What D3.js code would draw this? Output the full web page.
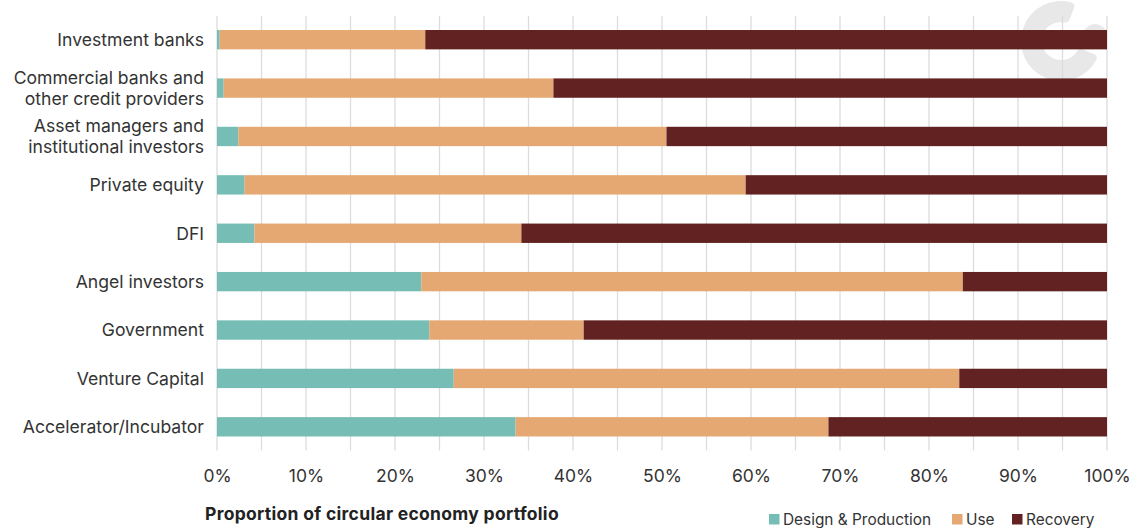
<!DOCTYPE html>
<html>
<head>
  <meta charset="utf-8">
  <title>Circular economy portfolio</title>
  <script src="https://d3js.org/d3.v7.min.js"></script>
  <style>
    body { margin: 0; background: #fff; }
    svg { display: block; font-family: Inter, "Noto Sans", sans-serif; }
  </style>
</head>
<body>
<div id="vis"></div>
<script>
  // categories top to bottom (\n = line break in the label)
  var categories = [
    "Investment banks",
    "Commercial banks and\nother credit providers",
    "Asset managers and\ninstitutional investors",
    "Private equity",
    "DFI",
    "Angel investors",
    "Government",
    "Venture Capital",
    "Accelerator/Incubator"
  ];
  var seriesNames = ["Design & Production", "Use", "Recovery"];
  var designProduction = [0.3, 0.75, 2.4, 3.1, 4.2, 22.95, 23.85, 26.6, 33.55];
  var use = [23.1, 37.05, 48.1, 56.3, 30.0, 60.85, 17.35, 56.8, 35.15];
  var recovery = [76.6, 62.2, 49.5, 40.6, 65.8, 16.2, 58.8, 16.6, 31.3];
  var tickValues = [0, 10, 20, 30, 40, 50, 60, 70, 80, 90, 100];
  var gridValues = d3.range(0, 101, 5);

  var colors = ["#76bdb5", "#e6a873", "#622222"];

  var W = 1137, H = 528;
  var margin = {top: 15.5, left: 217, right: 30, bottom: 77};
  var width = W - margin.left - margin.right;
  var height = H - margin.top - margin.bottom;

  var rows = categories.map(function(c, i) {
    return {cat: c, "Design & Production": designProduction[i], "Use": use[i], "Recovery": recovery[i]};
  });

  var svg = d3.select("#vis").append("svg")
      .attr("width", W)
      .attr("height", H);

  // faint logo mark, top right
  var logo = svg.append("g")
      .attr("transform", "translate(1061,41)")
      .attr("fill", "#e8e8e8");
  logo.append("path")
      .attr("d", d3.arc().innerRadius(19).outerRadius(40).startAngle(Math.PI * 0.62).endAngle(Math.PI * 2.12).cornerRadius(4)());
  logo.append("circle").attr("cx", 34).attr("cy", -5).attr("r", 12);

  var g = svg.append("g")
      .attr("transform", "translate(" + margin.left + "," + margin.top + ")");

  var x = d3.scaleLinear().domain([0, 100]).range([0, width]);
  var y = d3.scaleBand().domain(categories).range([0, height]).paddingInner(0.6).paddingOuter(0.3);

  // gridlines every 5%
  g.selectAll("line.grid")
      .data(gridValues)
      .enter()
      .append("line")
        .attr("class", "grid")
        .attr("x1", function(d) { return x(d); })
        .attr("x2", function(d) { return x(d); })
        .attr("y1", 0.5)
        .attr("y2", height - 0.5)
        .attr("stroke", "#dcdcdc")
        .attr("stroke-width", 1.3);

  var stacked = d3.stack().keys(seriesNames)(rows);

  g.selectAll("g.series")
      .data(stacked)
      .enter()
      .append("g")
        .attr("class", "series")
        .attr("fill", function(d, i) { return colors[i]; })
      .selectAll("rect")
      .data(function(d) { return d; })
      .enter()
      .append("rect")
        .attr("x", function(d) { return x(d[0]); })
        .attr("y", function(d) { return y(d.data.cat); })
        .attr("width", function(d) { return x(d[1]) - x(d[0]); })
        .attr("height", y.bandwidth());

  // category labels
  var yAxis = g.append("g")
      .call(d3.axisLeft(y).tickSize(0).tickPadding(13));
  yAxis.select(".domain").remove();
  yAxis.selectAll("text")
      .attr("font-size", 17.6)
      .attr("font-family", "Inter, 'Noto Sans', sans-serif")
      .attr("fill", "#333")
      .attr("dy", null)
      .each(function(d) {
        var lines = d.split("\n");
        var t = d3.select(this).text(null);
        var lh = 21.3;
        lines.forEach(function(l, i) {
          t.append("tspan")
            .attr("x", -13)
            .attr("dy", i === 0 ? (-(lines.length - 1) * lh / 2 + 6.3) + "px" : lh + "px")
            .text(l);
        });
      });

  // x ticks
  var xAxis = g.append("g")
      .attr("transform", "translate(0," + height + ")")
      .call(d3.axisBottom(x).tickValues(tickValues).tickSize(0).tickPadding(19)
        .tickFormat(function(d) { return d + "%"; }));
  xAxis.select(".domain").remove();
  xAxis.selectAll("text")
      .attr("font-size", 17.5)
      .attr("font-family", "Inter, 'Noto Sans', sans-serif")
      .attr("fill", "#333");

  // axis title
  svg.append("text")
      .attr("x", 205)
      .attr("y", 520)
      .attr("font-size", 17.5)
      .attr("font-weight", "bold")
      .attr("letter-spacing", 0.3)
      .attr("fill", "#222")
      .text("Proportion of circular economy portfolio");

  // legend (sits at the very bottom edge)
  var legendX = [769, 952, 1012];
  var legend = svg.append("g");
  seriesNames.forEach(function(s, i) {
    legend.append("rect")
        .attr("x", legendX[i])
        .attr("y", 514)
        .attr("width", 10.5)
        .attr("height", 10.5)
        .attr("fill", colors[i]);
    legend.append("text")
        .attr("x", legendX[i] + 14)
        .attr("y", 524.5)
        .attr("font-size", 15.4)
        .attr("fill", "#333")
        .text(s);
  });
</script>
</body>
</html>
